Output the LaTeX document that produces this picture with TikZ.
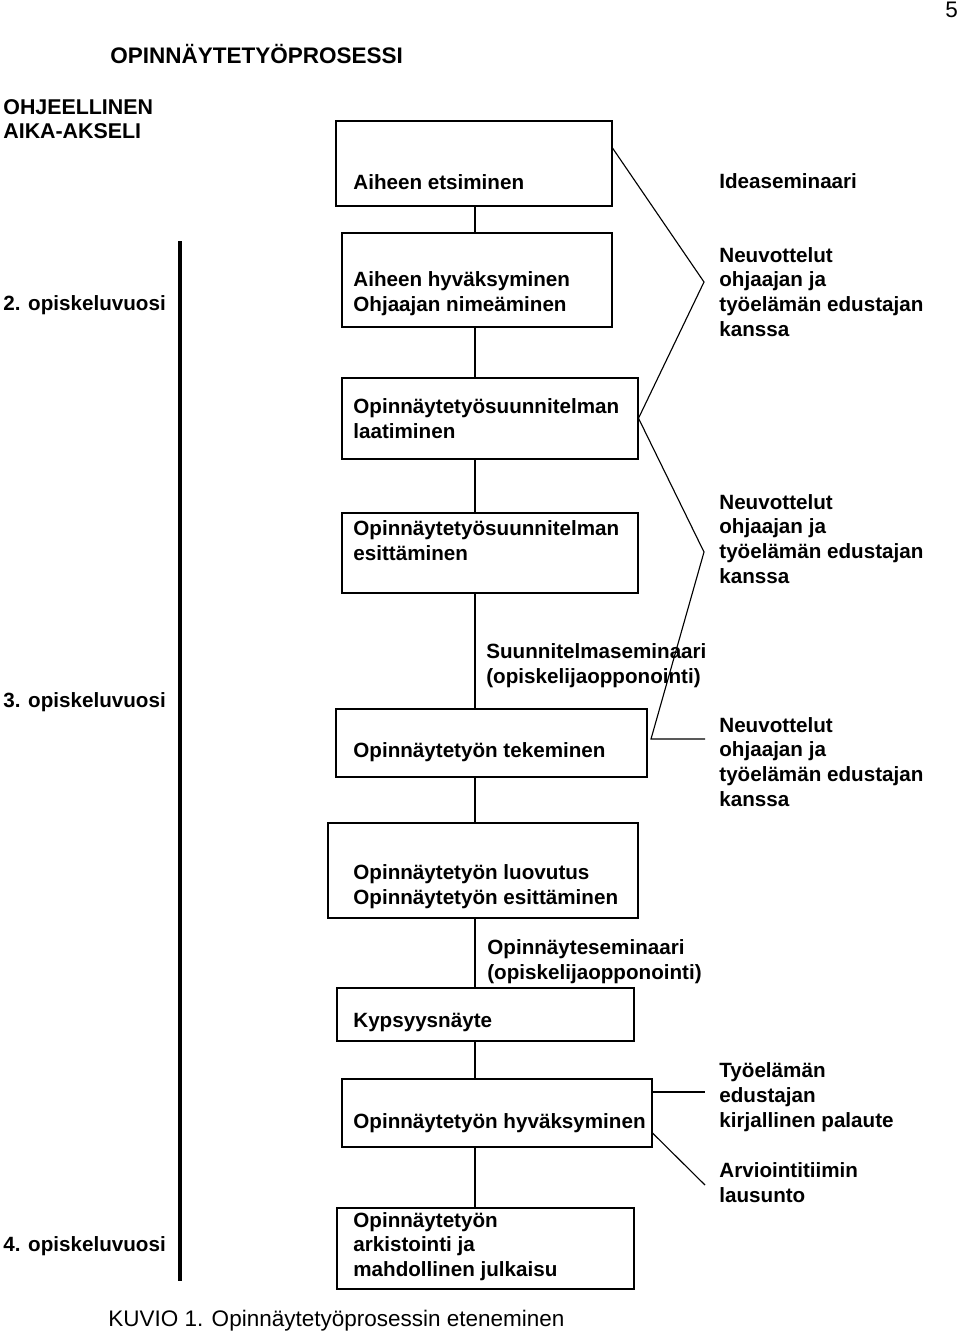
\documentclass[tikz,border=0pt]{standalone}
\usepackage{fontspec}
\setmainfont{Liberation Sans}

\begin{document}
\begin{tikzpicture}[x=0.5333pt,y=-0.5333pt,
  box/.style 2 args={draw,line width=0.8pt,inner sep=0pt,anchor=north west,
    minimum width=#1*0.5333pt,minimum height=#2*0.5333pt},
  txt/.style={inner sep=0pt,anchor=base west,align=left,
    font=\fontsize{11}{13.07}\selectfont\bfseries},
  link/.style={line width=0.6pt}]
\useasboundingbox (0,0) rectangle (960,1334);

% headings and time axis (multi-line texts sit on their last baseline)
\node [txt] (page) at (945,17) {\mdseries\fontsize{12}{14}\selectfont 5};
\node [txt,font=\fontsize{12}{14}\selectfont\bfseries] (title) at (110,63) {OPINNÄYTETYÖPROSESSI};
\node [txt,font=\fontsize{11.4}{12.4}\selectfont\bfseries] (akseli) at (3,138) {OHJEELLINEN\\AIKA-AKSELI};
\node [txt] (y2) at (3,310) {2. opiskeluvuosi};
\node [txt] (y3) at (3,707) {3. opiskeluvuosi};
\node [txt] (y4) at (3,1251) {4. opiskeluvuosi};
\draw [line width=2.4pt] (180,241) -- (180,1281);

% process boxes
\node [box={276}{85}] (b1) at (335,120) {};
\node [box={270}{94}] (b2) at (341,232) {};
\node [box={296}{81}] (b3) at (341,377) {};
\node [box={296}{80}] (b4) at (341,512) {};
\node [box={311}{68}] (b5) at (335,708) {};
\node [box={310}{95}] (b6) at (327,822) {};
\node [box={297}{53}] (b7) at (336,987) {};
\node [box={310}{68}] (b8) at (341,1078) {};
\node [box={297}{81}] (b9) at (336,1207) {};

\node [txt] (t1) at (353,189) {Aiheen etsiminen};
\node [txt] (t2) at (353,311) {Aiheen hyväksyminen\\Ohjaajan nimeäminen};
\node [txt] (t3) at (353,438) {Opinnäytetyösuunnitelman\\laatiminen};
\node [txt] (t4) at (353,560) {Opinnäytetyösuunnitelman\\esittäminen};
\node [txt] (t5) at (353,757) {Opinnäytetyön tekeminen};
\node [txt] (t6) at (353,904) {Opinnäytetyön luovutus\\Opinnäytetyön esittäminen};
\node [txt] (t7) at (353,1027) {Kypsyysnäyte};
\node [txt] (t8) at (353,1128) {Opinnäytetyön hyväksyminen};
\node [txt] (t9) at (353,1276) {Opinnäytetyön\\arkistointi ja\\mahdollinen julkaisu};

\node [txt] (sem1) at (486,683) {Suunnitelmaseminaari\\(opiskelijaopponointi)};
\node [txt] (sem2) at (487,979) {Opinnäyteseminaari\\(opiskelijaopponointi)};

% right column
\node [txt] (idea) at (719,188) {Ideaseminaari};
\node [txt] (neu1) at (719,336) {Neuvottelut\\ohjaajan ja\\työelämän edustajan\\kanssa};
\node [txt] (neu2) at (719,583) {Neuvottelut\\ohjaajan ja\\työelämän edustajan\\kanssa};
\node [txt] (neu3) at (719,806) {Neuvottelut\\ohjaajan ja\\työelämän edustajan\\kanssa};
\node [txt] (pal) at (719,1127) {Työelämän\\edustajan\\kirjallinen palaute};
\node [txt] (arv) at (719,1202) {Arviointitiimin\\lausunto};

\node [txt,font=\fontsize{12}{14}\selectfont] (kuvio) at (108,1326) {KUVIO 1. Opinnäytetyöprosessin eteneminen};

% connectors
\coordinate (spine) at (475,0);
\foreach \a/\b in {b1/b2,b2/b3,b3/b4,b4/b5,b5/b6,b6/b7,b7/b8,b8/b9}
  \draw [link] (\a.south -| spine) -- (\b.north -| spine);

\coordinate (z1) at (704,282);
\coordinate (z2) at (704,552);
\coordinate (z3) at (651,739);
\coordinate (z4) at (705,739);
\draw [link] (b1.north east) ++(0,28) -- (z1) -- (b3.east) -- (z2) -- (z3) -- (z4);

\coordinate (palend) at (705,1092);
\coordinate (arvend) at (705,1185);
\draw [link] (b8.north east) ++(0,14) -- (palend);
\draw [link] (b8.north east) ++(0,55) -- (arvend);
\end{tikzpicture}
\end{document}
